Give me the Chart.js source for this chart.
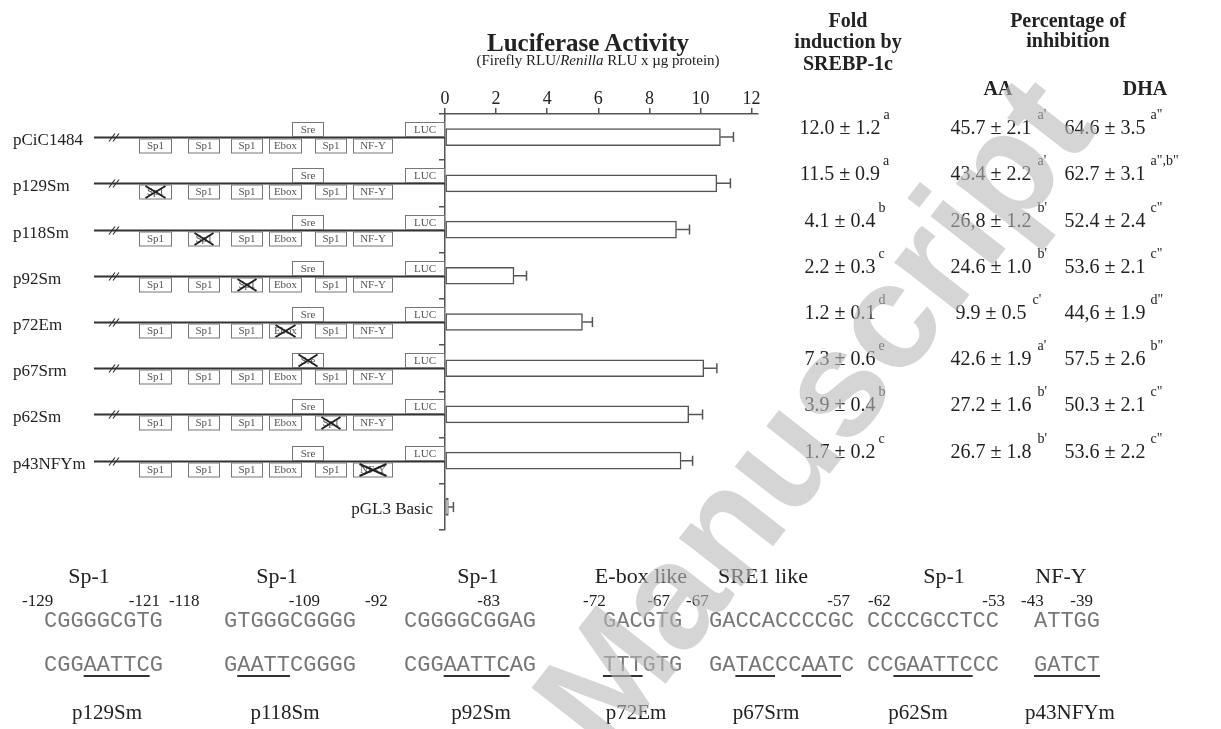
<!DOCTYPE html>
<html>
<head>
<meta charset="utf-8">
<script src="https://cdn.jsdelivr.net/npm/chart.js@4.4.1/dist/chart.umd.min.js"></script>
<style>
  body { margin: 0; background: #fff; }
  #wrap { position: relative; width: 1221px; height: 729px; overflow: hidden;
          font-family: "Liberation Serif", "Times New Roman", serif; color: #222; }
  #wrap canvas { position: absolute; left: 0; top: 0; }
  .t { position: absolute; white-space: nowrap; line-height: 1; }
  .mid { transform: translate(-50%, -50%); }
  .lft { transform: translate(0, -50%); }
  .rgt { transform: translate(-100%, -50%); }
  .hdr { font-weight: bold; font-size: 20px; }
  .val { font-size: 20px; }
  .val sup { position: absolute; left: 100%; top: -9px; font-size: 14px; line-height: 1; }
  .seq { font-family: "Liberation Mono", "Courier New", monospace; font-size: 22px; color: #777; }
  .seq u { text-decoration: underline; text-decoration-thickness: 2px; text-underline-offset: 4px; text-decoration-color: #333; }
  .watermark { position: absolute; font-family: "Liberation Sans", Arial, sans-serif; font-size: 150px; font-weight: bold;
               color: rgba(185,185,185,0.6); white-space: nowrap; line-height: 1; pointer-events: none;
               transform: translate(-50%, -50%) rotate(-52deg); }
</style>
</head>
<body>
<div id="wrap">
  <canvas id="chart" width="1221" height="729"></canvas>
  <div id="overlay"></div>
</div>
<script>
// Luciferase reporter constructs of the promoter

const constructs  = ['pCiC1484', 'p129Sm', 'p118Sm', 'p92Sm', 'p72Em', 'p67Srm', 'p62Sm', 'p43NFYm', 'pGL3 Basic'];
const activity    = [10.78, 10.64, 9.06, 2.70, 5.38, 10.13, 9.54, 9.24, 0.13];
const activityErr = [0.51, 0.53, 0.51, 0.49, 0.39, 0.51, 0.54, 0.45, 0.20];

// promoter elements drawn on each construct, and which one is mutated (-1 = none)
const promoterSites = ['Sp1', 'Sp1', 'Sp1', 'Ebox', 'Sre', 'Sp1', 'NF-Y', 'LUC'];
const mutatedSite   = [-1, 0, 1, 2, 3, 4, 5, 6];

const foldInduction = ['12.0 ± 1.2', '11.5 ± 0.9', '4.1 ± 0.4', '2.2 ± 0.3', '1.2 ± 0.1', '7.3 ± 0.6', '3.9 ± 0.4', '1.7 ± 0.2'];
const foldLetter    = ['a', 'a', 'b', 'c', 'd', 'e', 'b', 'c'];
const inhibitionAA  = ['45.7 ± 2.1', '43.4 ± 2.2', '26,8 ± 1.2', '24.6 ± 1.0', '9.9 ± 0.5', '42.6 ± 1.9', '27.2 ± 1.6', '26.7 ± 1.8'];
const aaLetter      = ["a'", "a'", "b'", "b'", "c'", "a'", "b'", "b'"];
const inhibitionDHA = ['64.6 ± 3.5', '62.7 ± 3.1', '52.4 ± 2.4', '53.6 ± 2.1', '44,6 ± 1.9', '57.5 ± 2.6', '50.3 ± 2.1', '53.6 ± 2.2'];
const dhaLetter     = ['a"', 'a",b"', 'c"', 'c"', 'd"', 'b"', 'c"', 'c"'];

// mutated binding sites (bottom panel)
const siteNames = ['Sp-1', 'Sp-1', 'Sp-1', 'E-box like', 'SRE1 like', 'Sp-1', 'NF-Y'];
const siteFrom  = ['-129', '-118', '-92', '-72', '-67', '-62', '-43'];
const siteTo    = ['-121', '-109', '-83', '-67', '-57', '-53', '-39'];
const wildSeq   = ['CGGGGCGTG', 'GTGGGCGGGG', 'CGGGGCGGAG', 'GACGTG', 'GACCACCCCGC', 'CCCCGCCTCC', 'ATTGG'];
const mutSeq    = ['CGG[AATTC]G', 'G[AATT]CGGGG', 'CGG[AATTC]AG', '[TTT]GTG', 'GA[TAC]CC[AAT]C', 'CC[GAATTC]CC', '[GATCT]'];
const mutNames  = ['p129Sm', 'p118Sm', 'p92Sm', 'p72Em', 'p67Srm', 'p62Sm', 'p43NFYm'];

// ─── layout ───────────────────────────────────────────────────────────────
const AXIS_LEFT = 445, AXIS_RIGHT = 758, AXIS_TOP = 114, AXIS_BOTTOM = 530;
const LINE_X0 = 94;
const boxX     = [139, 188, 231, 269, 292, 315, 353, 405];
const boxW     = [32, 31, 31, 32, 31, 31, 39, 39];
const boxAbove = [false, false, false, false, true, false, false, true];

const colFold = 840, colAA = 991, colDHA = 1105, valDy = -10;
const grpHeadX = [89, 277, 478, 641, 763, 944, 1061];
const grpFromX = [22, 169, 365, 583, 686, 868, 1021];
const grpToX   = [160, 320, 500, 670, 850, 1005, 1093];
const grpSeqX  = [44, 224, 404, 603, 709, 867, 1034];
const grpNameX = [107, 285, 481, 636, 766, 918, 1070];

const SERIF = '"Liberation Serif", "Times New Roman", serif';

// ─── canvas extras: error bars and construct diagrams ─────────────────────
const extras = {
  id: 'extras',
  afterDatasetsDraw(chart) {
    const { ctx, scales: { x, y } } = chart;
    ctx.save();

    // error bars (positive side only)
    ctx.strokeStyle = '#555';
    ctx.lineWidth = 1.5;
    activity.forEach((v, i) => {
      const yc = y.getPixelForValue(i);
      const x0 = x.getPixelForValue(v);
      const x1 = x.getPixelForValue(v + activityErr[i]);
      ctx.beginPath();
      ctx.moveTo(x0, yc); ctx.lineTo(x1, yc);
      ctx.moveTo(x1, yc - 5); ctx.lineTo(x1, yc + 5);
      ctx.stroke();
    });

    // promoter diagrams
    mutatedSite.forEach((mut, i) => {
      const yc = Math.round(y.getPixelForValue(i)) + 0.5;
      ctx.strokeStyle = '#333';
      ctx.lineWidth = 2;
      ctx.beginPath();
      ctx.moveTo(LINE_X0, yc); ctx.lineTo(x.left, yc);
      ctx.stroke();
      // break mark
      ctx.lineWidth = 1.2;
      ctx.beginPath();
      ctx.moveTo(109, yc + 4); ctx.lineTo(115, yc - 4);
      ctx.moveTo(113, yc + 4); ctx.lineTo(119, yc - 4);
      ctx.stroke();

      promoterSites.forEach((s, k) => {
        const bx = boxX[k] + 0.5, bw = boxW[k], bh = 14;
        const by = boxAbove[k] ? yc - 15 : yc + 1.5;
        ctx.fillStyle = '#fff';
        ctx.fillRect(bx, by, bw, bh);
        ctx.strokeStyle = '#777';
        ctx.lineWidth = 1;
        ctx.strokeRect(bx, by, bw, bh);
        ctx.fillStyle = '#555';
        ctx.font = '11px ' + SERIF;
        ctx.textAlign = 'center';
        ctx.textBaseline = 'middle';
        ctx.fillText(s, bx + bw / 2, by + bh / 2 + 0.5);
        if (k === mut) {
          ctx.strokeStyle = '#222';
          ctx.lineWidth = 2;
          ctx.beginPath();
          ctx.moveTo(bx + 6, by + 1); ctx.lineTo(bx + bw - 6, by + bh - 1);
          ctx.moveTo(bx + bw - 6, by + 1); ctx.lineTo(bx + 6, by + bh - 1);
          ctx.stroke();
        }
      });
    });
    ctx.restore();
  }
};

const chart = new Chart(document.getElementById('chart'), {
  type: 'bar',
  data: {
    labels: constructs,
    datasets: [{
      data: activity,
      backgroundColor: '#fff',
      borderColor: '#555',
      borderWidth: 1.5,
      borderSkipped: false,
      barThickness: 17,
    }]
  },
  options: {
    indexAxis: 'y',
    responsive: false,
    animation: false,
    devicePixelRatio: 1,
    layout: { padding: { left: 0, top: 0, right: 1221 - AXIS_RIGHT, bottom: 729 - AXIS_BOTTOM } },
    plugins: { legend: { display: false }, tooltip: { enabled: false } },
    scales: {
      x: {
        position: 'top',
        min: 0,
        max: 12.25,
        afterFit(s) { s.height = AXIS_TOP; },
        ticks: { stepSize: 2, includeBounds: false, color: '#222', padding: 0,
                 font: { family: SERIF, size: 18, lineHeight: 1 } },
        grid: { drawOnChartArea: false, drawTicks: true, tickLength: 6, color: '#555', lineWidth: 1.5 },
        border: { display: true, color: '#555', width: 1.5 }
      },
      y: {
        afterFit(s) { s.width = AXIS_LEFT; },
        ticks: { display: false },
        grid: { drawOnChartArea: false, drawTicks: true, tickLength: 6, color: '#555', lineWidth: 1.5, offset: true },
        border: { display: true, color: '#555', width: 1.5 }
      }
    }
  },
  plugins: [extras]
});

// ─── text overlay ─────────────────────────────────────────────────────────
const overlay = document.getElementById('overlay');
function addText(html, x, y, cls, style) {
  const d = document.createElement('div');
  d.className = 't ' + (cls || 'mid');
  d.style.left = x + 'px';
  d.style.top = y + 'px';
  if (style) Object.assign(d.style, style);
  d.innerHTML = html;
  overlay.appendChild(d);
  return d;
}

addText('Luciferase Activity', 588, 42, 'mid', { fontWeight: 'bold', fontSize: '25px' });
addText('(Firefly RLU/<i>Renilla</i> RLU x µg protein)', 598, 60, 'mid', { fontSize: '15px' });

addText('Fold', 848, 20, 'mid hdr');
addText('induction by', 848, 41, 'mid hdr');
addText('SREBP-1c', 848, 63, 'mid hdr');
addText('Percentage of', 1068, 20, 'mid hdr');
addText('inhibition', 1068, 40, 'mid hdr');
addText('AA', 998, 88, 'mid hdr');
addText('DHA', 1145, 88, 'mid hdr');

const ys = chart.scales.y;
constructs.forEach((name, i) => {
  const cy = ys.getPixelForValue(i);
  if (i < mutatedSite.length) {
    addText(name, 13, cy + 2, 'lft', { fontSize: '17px' });
  } else {
    addText(name, 433, cy + 1, 'rgt', { fontSize: '17px' });
  }
});

function addValue(text, sup, x, y, gap) {
  const d = addText('<span>' + text + '</span><sup>' + sup + '</sup>', x, y, 'mid val');
  d.querySelector('sup').style.marginLeft = gap + 'px';
}
foldInduction.forEach((v, i) => {
  const cy = ys.getPixelForValue(i) + valDy;
  addValue(v, foldLetter[i], colFold, cy, 3);
  addValue(inhibitionAA[i], aaLetter[i], colAA, cy, 6);
  addValue(inhibitionDHA[i], dhaLetter[i], colDHA, cy, 5);
});

// bottom panel: binding sites and their mutations
siteNames.forEach((s, g) => {
  addText(s, grpHeadX[g], 576, 'mid', { fontSize: '22px' });
  addText(siteFrom[g], grpFromX[g], 600, 'lft', { fontSize: '17px' });
  addText(siteTo[g], grpToX[g], 600, 'rgt', { fontSize: '17px' });
  addText(wildSeq[g], grpSeqX[g], 622, 'lft seq');
  addText(mutSeq[g].replace(/\[/g, '<u>').replace(/\]/g, '</u>'), grpSeqX[g], 666, 'lft seq');
  addText(mutNames[g], grpNameX[g], 712, 'mid', { fontSize: '21px' });
});

const wm = document.createElement('div');
wm.className = 'watermark';
wm.style.left = '812px';
wm.style.top = '412px';
wm.textContent = 'Manuscript';
overlay.appendChild(wm);
</script>
</body>
</html>
